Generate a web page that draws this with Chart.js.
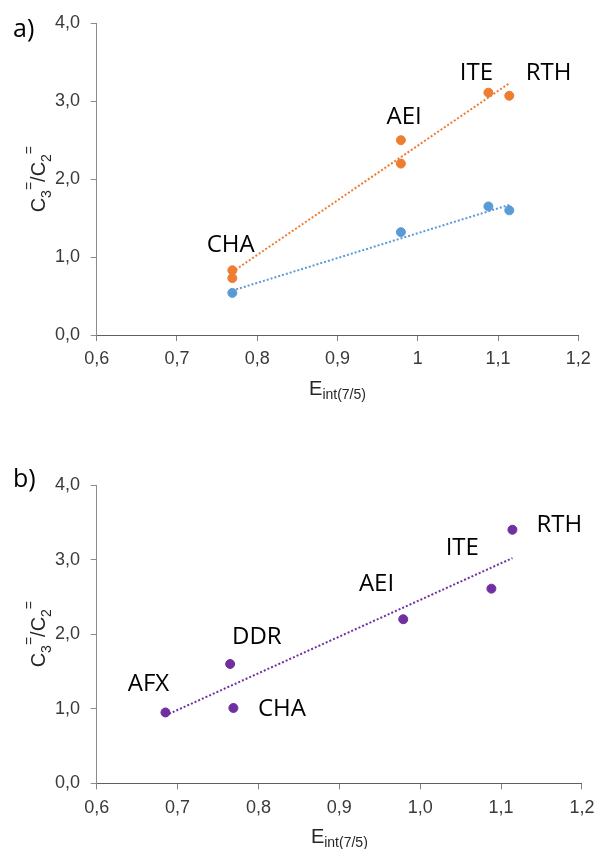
<!DOCTYPE html>
<html>
<head>
<meta charset="utf-8">
<script src="https://cdn.jsdelivr.net/npm/chart.js@4.4.1/dist/chart.umd.min.js"></script>
<style>
  html, body { margin: 0; padding: 0; background: #ffffff; }
  body { width: 602px; height: 849px; position: relative; overflow: hidden; }
  .box { position: absolute; left: 0; width: 602px; }
  canvas { display: block; }
</style>
</head>
<body>
<div class="box" style="top:0;height:420px"><canvas id="chartA" width="602" height="420"></canvas></div>
<div class="box" style="top:420px;height:429px"><canvas id="chartB" width="602" height="429"></canvas></div>
<script>
// ---------- Data: panel a ----------
const namesA = ['CHA', 'AEI', 'ITE', 'RTH'];
const orangeX = [0.769, 0.769, 0.979, 0.979, 1.088, 1.114];
const orangeY = [0.83, 0.73, 2.50, 2.20, 3.11, 3.07];
const blueX = [0.769, 0.979, 1.088, 1.114];
const blueY = [0.54, 1.32, 1.65, 1.60];
const trendOrangeX = [0.769, 1.114];
const trendOrangeY = [0.81, 3.23];
const trendBlueX = [0.769, 1.114];
const trendBlueY = [0.57, 1.67];
const labelAX = [0.767, 0.983, 1.073, 1.163];
const labelAY = [1.17, 2.82, 3.38, 3.38];

// ---------- Data: panel b ----------
const namesB = ['AFX', 'DDR', 'CHA', 'AEI', 'ITE', 'RTH'];
const purpleX = [0.685, 0.765, 0.769, 0.979, 1.088, 1.114];
const purpleY = [0.95, 1.60, 1.01, 2.20, 2.61, 3.40];
const trendPurpleX = [0.685, 1.114];
const trendPurpleY = [0.91, 3.02];
const labelBX = [0.664, 0.798, 0.829, 0.946, 1.052, 1.172];
const labelBY = [1.35, 1.98, 1.02, 2.69, 3.17, 3.48];

// ---------- Tick labels ----------
const xTicksA = ['0,6', '0,7', '0,8', '0,9', '1', '1,1', '1,2'];
const xTicksB = ['0,6', '0,7', '0,8', '0,9', '1,0', '1,1', '1,2'];
const yTicks = ['0,0', '1,0', '2,0', '3,0', '4,0'];

const pts = (xs, ys) => xs.map((v, i) => ({ x: v, y: ys[i] }));

const annot = {
  id: 'annot',
  afterDraw(chart, args, o) {
    const { ctx, chartArea } = chart;
    const sx = chart.scales.x, sy = chart.scales.y;
    ctx.save();
    // point labels
    ctx.fillStyle = '#000000';
    ctx.font = '24px "Open Sans"';
    ctx.textAlign = 'center';
    ctx.textBaseline = 'alphabetic';
    const capH = ctx.measureText('H').actualBoundingBoxAscent;
    o.names.forEach((n, i) => {
      ctx.fillText(n, sx.getPixelForValue(o.lx[i]), sy.getPixelForValue(o.ly[i]) + capH / 2);
    });
    // panel letter
    ctx.font = '25px "Open Sans"';
    ctx.textAlign = 'left';
    const m = ctx.measureText(o.panel);
    const base = o.panelY + (m.actualBoundingBoxAscent - m.actualBoundingBoxDescent) / 2;
    ctx.fillText(o.panel, 13, base);
    // x title
    ctx.fillStyle = '#262626';
    ctx.font = '20px "Liberation Sans"';
    const wE = ctx.measureText('E').width;
    ctx.font = '14px "Liberation Sans"';
    const wS = ctx.measureText('int(7/5)').width;
    const cx = (chartArea.left + chartArea.right) / 2;
    const x0 = cx - (wE + wS) / 2;
    const yb = chartArea.bottom + 60;
    ctx.font = '20px "Liberation Sans"';
    ctx.fillText('E', x0, yb);
    ctx.font = '14px "Liberation Sans"';
    ctx.fillText('int(7/5)', x0 + wE, yb + 4);
    // y title (rotated)
    const segs = [
      ['C', 20, 0], ['3', 14, 6], ['=', 14, -11], ['/', 20, 0],
      ['C', 20, 0], ['2', 14, 6], ['=', 14, -11]
    ];
    let total = 0;
    segs.forEach(s => { ctx.font = s[1] + 'px "Liberation Sans"'; s.push(ctx.measureText(s[0]).width); total += s[3]; });
    const cy = (chartArea.top + chartArea.bottom) / 2;
    ctx.translate(45, cy);
    ctx.rotate(-Math.PI / 2);
    let px = -total / 2;
    segs.forEach(s => {
      ctx.font = s[1] + 'px "Liberation Sans"';
      ctx.fillText(s[0], px, s[2]);
      px += s[3];
    });
    ctx.restore();
  }
};

function makeScales(xLabels, xHeight) {
  return {
    x: {
      type: 'linear', min: 0.6, max: 1.2,
      afterFit: s => { s.height = xHeight; },
      ticks: {
        stepSize: 0.1, autoSkip: false, maxRotation: 0, padding: 7.5,
        color: '#3a3a3a', font: { family: 'Liberation Sans', size: 18 },
        callback: (v, i) => xLabels[i]
      },
      grid: { display: true, drawOnChartArea: false, drawTicks: true, tickLength: 6, color: '#707070', tickColor: '#808080' },
      border: { display: true, color: '#5f5f5f', width: 1 },
      title: { display: false }
    },
    y: {
      type: 'linear', min: 0, max: 4,
      afterFit: s => { s.width = 96.7; },
      ticks: {
        stepSize: 1, padding: 10.7,
        color: '#3a3a3a', font: { family: 'Liberation Sans', size: 18 },
        callback: (v, i) => yTicks[i]
      },
      grid: { display: true, drawOnChartArea: false, drawTicks: true, tickLength: 6, color: '#8c8c8c', tickColor: '#8c8c8c' },
      border: { display: true, color: '#8c8c8c', width: 1 },
      title: { display: false }
    }
  };
}

const common = {
  responsive: false,
  animation: false,
  devicePixelRatio: 1,
  events: [],
  plugins: { legend: { display: false }, tooltip: { enabled: false } }
};

const dot = (color) => ({ pointRadius: 4.5, pointBorderWidth: 1, pointBackgroundColor: color, pointBorderColor: color, showLine: false });
const trend = (color) => ({ showLine: true, pointRadius: 0, borderColor: color, borderWidth: 2, borderDash: [2, 2], fill: false });

new Chart(document.getElementById('chartA'), {
  type: 'scatter',
  data: {
    datasets: [
      Object.assign({ label: 'trend C3/C2 (orange)', data: pts(trendOrangeX, trendOrangeY), order: 0 }, trend('#ED7D31')),
      Object.assign({ label: 'trend (blue)', data: pts(trendBlueX, trendBlueY), order: 0 }, trend('#5B9BD5')),
      Object.assign({ label: 'orange', data: pts(orangeX, orangeY), order: 1 }, dot('#ED7D31')),
      Object.assign({ label: 'blue', data: pts(blueX, blueY), order: 1 }, dot('#5B9BD5'))
    ]
  },
  options: Object.assign({}, common, {
    layout: { padding: { top: 23.3, right: 23.7, left: 0, bottom: 0 } },
    scales: makeScales(xTicksA, 85),
    plugins: Object.assign({}, common.plugins, {
      annot: { names: namesA, lx: labelAX, ly: labelAY, panel: 'a)', panelY: 30.5 }
    })
  }),
  plugins: [annot]
});

new Chart(document.getElementById('chartB'), {
  type: 'scatter',
  data: {
    datasets: [
      Object.assign({ label: 'trend (purple)', data: pts(trendPurpleX, trendPurpleY), order: 0 }, trend('#7030A0')),
      Object.assign({ label: 'purple', data: pts(purpleX, purpleY), order: 1 }, dot('#7030A0'))
    ]
  },
  options: Object.assign({}, common, {
    layout: { padding: { top: 65, right: 14.5, left: 0, bottom: 0 } },
    scales: makeScales(xTicksB, 65.7),
    plugins: Object.assign({}, common.plugins, {
      annot: { names: namesB, lx: labelBX, ly: labelBY, panel: 'b)', panelY: 60 }
    })
  }),
  plugins: [annot]
});
</script>
</body>
</html>
